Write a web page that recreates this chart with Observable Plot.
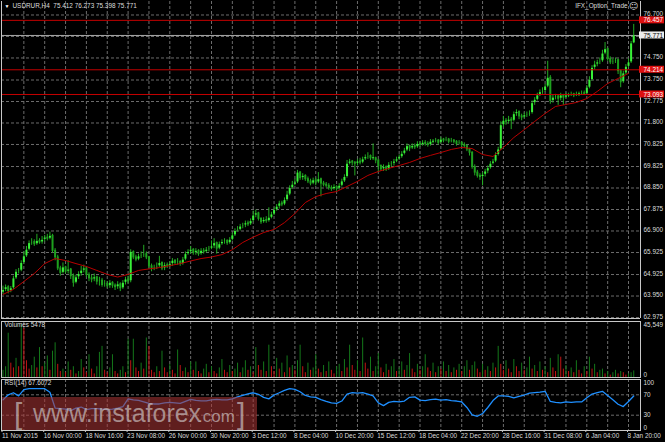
<!DOCTYPE html>
<html><head><meta charset="utf-8">
<script src="https://cdn.jsdelivr.net/npm/d3@7"></script>
<script src="https://cdn.jsdelivr.net/npm/@observablehq/plot@0.6"></script>
<style>
html,body{margin:0;padding:0;background:#000;}
#wrap{position:relative;width:665px;height:442px;background:#000;overflow:hidden;font-family:"Liberation Sans",Arial,sans-serif;}
#wrap svg{position:absolute;left:0;}
#wm{position:absolute;left:2px;top:397px;width:255px;height:33px;background:rgba(172,54,54,0.56);}
#wm span{position:absolute;color:rgba(196,184,184,0.72);font-family:"Liberation Sans",Arial,sans-serif;white-space:nowrap;}
</style></head>
<body><div id="wrap"></div>
<script>
// ---------- DATA ----------
const symbol = "USDRUR,H4";
const firstOpen = 64.10;
const closes = [
64.22,64.35,64.18,64.30,64.75,65.05,65.10,65.45,65.75,66.05,
66.35,66.40,66.30,66.45,66.38,66.50,66.60,66.55,66.68,66.00,
65.70,65.20,65.00,65.25,65.05,65.15,64.85,64.55,64.80,64.95,
65.10,65.20,64.90,64.75,64.70,64.80,64.60,64.65,64.45,64.50,
64.40,64.55,64.42,64.35,64.48,64.30,64.55,64.70,64.62,65.95,
65.70,65.60,65.75,65.80,65.85,65.70,65.30,65.20,65.25,65.30,
65.45,65.20,65.35,65.30,65.40,65.55,65.45,65.50,65.40,65.60,
65.85,65.95,66.05,65.90,66.00,65.85,66.00,65.95,66.05,66.10,
66.20,66.35,66.10,66.30,66.40,66.45,66.35,66.50,66.70,66.90,
66.95,67.10,67.15,67.25,67.20,67.35,67.60,67.70,67.45,67.30,
67.40,67.35,67.50,67.65,67.85,68.00,68.15,68.10,68.30,68.55,
68.85,69.00,69.10,69.55,69.30,69.40,69.25,69.15,69.05,69.20,
69.10,69.25,69.05,69.00,68.95,68.85,68.80,68.90,68.82,68.95,
69.15,69.35,69.95,70.05,70.00,69.95,70.05,70.00,70.15,70.25,
70.30,70.20,70.20,70.10,69.85,69.70,69.80,69.70,69.90,69.95,
70.05,70.15,70.25,70.40,70.55,70.75,70.65,70.75,70.70,70.85,
70.80,70.90,70.85,70.80,70.95,70.95,71.00,70.90,71.05,71.00,
71.05,70.95,71.00,70.95,70.85,70.90,70.80,70.75,70.60,70.45,
69.80,69.55,69.40,69.35,69.45,69.60,69.75,69.95,70.05,70.35,
70.60,71.70,71.90,71.85,71.95,71.90,72.20,72.30,72.10,72.05,
72.15,72.20,72.25,72.70,72.85,73.05,73.20,73.25,73.45,73.85,
72.80,72.95,73.00,72.90,73.05,72.95,73.05,73.05,73.10,73.05,
73.10,73.10,73.15,73.12,73.40,73.75,74.30,74.45,74.55,74.60,
74.95,75.15,74.70,74.55,74.60,74.65,74.15,73.65,74.05,74.35,
74.55,75.412,75.771];
const highs = [
64.40,64.45,64.42,64.38,64.85,65.15,65.20,65.55,65.95,66.20,
66.45,66.55,66.50,66.75,66.55,66.65,66.70,66.75,66.85,66.75,
66.10,65.80,65.30,65.45,65.30,65.55,65.20,64.95,64.90,65.05,
65.30,65.35,65.25,65.00,64.90,64.95,64.85,64.80,64.75,64.65,
64.60,64.65,64.60,64.50,64.60,64.55,64.65,64.80,64.85,66.05,
66.00,65.80,65.85,65.95,66.25,65.95,65.75,65.40,65.35,65.45,
65.75,65.50,65.45,65.45,65.50,65.65,65.60,65.65,65.55,65.70,
65.95,66.05,66.20,66.10,66.10,66.05,66.10,66.10,66.15,66.20,
66.45,66.55,66.40,66.40,66.50,66.55,66.50,66.60,66.80,67.00,
67.10,67.20,67.25,67.35,67.35,67.45,67.80,67.85,67.75,67.50,
67.50,67.55,67.95,67.75,67.95,68.10,68.25,68.25,68.40,68.70,
68.95,69.15,69.25,69.65,69.60,69.50,69.45,69.35,69.25,69.30,
69.30,69.55,69.30,69.15,69.10,69.05,68.95,69.00,68.95,69.05,
69.25,69.45,70.10,70.15,70.10,70.05,70.15,70.20,70.25,70.35,
70.45,70.35,70.85,70.25,70.15,69.90,69.90,69.85,70.00,70.05,
70.15,70.25,70.35,70.50,70.65,70.85,70.80,70.85,70.85,70.95,
70.95,71.00,71.00,70.95,71.05,71.05,71.10,71.05,71.15,71.10,
71.15,71.10,71.10,71.05,71.00,71.00,70.95,70.90,70.80,70.65,
70.50,69.90,69.65,69.50,69.55,69.70,69.85,70.05,70.15,70.45,
70.70,71.85,72.10,72.00,72.10,72.05,72.30,72.40,72.35,72.20,
72.25,72.30,72.35,72.80,72.95,73.15,73.30,73.40,73.55,74.60,
73.95,73.05,73.10,73.05,73.15,73.10,73.15,73.15,73.20,73.15,
73.20,73.20,73.25,73.25,73.50,73.90,74.40,74.60,74.65,74.75,
75.10,75.45,75.20,74.80,74.70,74.75,74.70,74.20,74.15,74.45,
74.70,75.50,76.273];
const lows = [
64.02,64.15,64.05,64.10,64.25,64.70,64.95,65.05,65.40,65.70,
66.00,66.25,66.20,66.25,66.30,66.30,66.40,66.45,66.50,65.90,
65.55,65.10,64.85,64.95,64.95,64.95,64.70,64.35,64.50,64.70,
64.85,65.00,64.80,64.60,64.55,64.60,64.45,64.40,64.35,64.35,
64.30,64.30,64.30,64.20,64.25,64.15,64.25,64.45,64.50,64.55,
65.60,65.50,65.55,65.65,65.70,65.60,65.20,65.05,65.10,65.15,
65.25,65.10,65.10,65.20,65.25,65.30,65.35,65.35,65.30,65.35,
65.55,65.80,65.85,65.80,65.80,65.75,65.80,65.85,65.90,65.95,
66.05,66.10,65.85,66.05,66.25,66.30,66.25,66.30,66.45,66.65,
66.85,66.90,67.00,67.05,67.10,67.15,67.30,67.50,67.35,67.20,
67.25,67.25,67.30,67.45,67.60,67.80,67.90,68.00,68.05,68.25,
68.50,68.80,68.95,69.05,69.20,69.20,69.15,69.05,68.95,69.00,
68.95,69.05,68.45,68.90,68.85,68.75,68.70,68.75,68.70,68.75,
68.90,69.10,69.30,69.90,69.85,69.40,69.85,69.90,69.95,70.10,
70.15,70.10,70.10,69.95,69.55,69.60,69.60,69.60,69.65,69.80,
69.85,70.00,70.10,70.20,70.35,70.50,70.50,70.60,70.60,70.65,
70.70,70.75,70.75,70.70,70.75,70.85,70.90,70.80,70.85,70.90,
70.95,70.85,70.90,70.85,70.75,70.80,70.70,70.65,70.50,70.30,
69.70,69.40,69.30,69.20,68.95,69.35,69.50,69.70,69.90,70.00,
70.30,70.55,71.60,71.70,71.75,71.50,71.85,72.10,71.95,71.90,
72.00,72.05,72.10,72.20,72.60,72.80,73.00,73.10,73.20,73.40,
72.65,72.70,72.85,72.60,72.80,72.60,72.90,72.95,73.00,72.95,
73.00,73.00,73.05,73.05,73.05,73.35,73.70,74.20,74.35,74.45,
74.55,74.90,74.60,74.45,74.45,74.50,74.00,73.40,73.60,74.00,
74.30,74.50,75.398];
const volumes = [
6000,9000,37000,12000,8000,16000,9000,44000,41000,14000,
7000,10000,17000,8000,25000,9000,12000,18000,6000,22000,
29000,11000,5000,7000,4000,13000,6000,9000,3000,5000,
15000,8000,4000,19000,7000,3000,9000,21000,26000,6000,
4000,8000,19000,5000,3000,6000,9000,4000,32000,14000,
32000,8000,5000,12000,7000,33000,26000,6000,4000,9000,
5000,22000,8000,4000,11000,6000,3000,23000,10000,5000,
8000,4000,13000,6000,13000,5000,3000,7000,11000,4000,
9000,5000,3000,8000,15000,6000,4000,10000,5000,7000,
12000,4000,8000,14000,6000,9000,4000,25000,10000,6000,
13000,5000,27000,9000,5000,16000,7000,12000,4000,18000,
8000,10000,6000,14000,27000,9000,4000,12000,6000,8000,
19000,7000,4000,10000,5000,13000,6000,3000,9000,11000,
5000,15000,8000,27000,10000,6000,14000,5000,33000,12000,
7000,17000,5000,9000,20000,8000,4000,11000,6000,9000,
15000,5000,8000,13000,6000,10000,20000,7000,4000,11000,
6000,9000,19000,8000,5000,12000,4000,9000,7000,13000,
5000,10000,4000,8000,6000,11000,5000,9000,14000,6000,
10000,13000,7000,4000,11000,6000,9000,5000,12000,8000,
26000,11000,6000,14000,7000,4000,15000,9000,5000,12000,
6000,8000,17000,7000,10000,5000,13000,6000,9000,4000,
16000,8000,5000,19000,17000,7000,10000,5000,8000,4000,
14000,6000,3000,9000,5000,17000,7000,11000,4000,6000,
7000,3000,5000,2000,4000,6000,3000,5000,4000,2000,
3000,4000,5478];
const volScaleMax = 45549;
// moving average, one value every 4 bars
const maValues = [64.02,64.25,64.61,64.97,65.42,65.65,65.56,65.42,65.29,65.11,
64.93,64.81,64.93,65.11,65.18,65.24,65.33,65.42,65.54,65.65,
65.72,65.83,66.05,66.38,66.62,66.83,66.97,67.28,67.69,68.19,
68.46,68.60,68.69,68.92,69.15,69.42,69.60,69.74,69.87,70.01,
70.19,70.33,70.46,70.60,70.69,70.64,70.37,70.28,70.69,71.14,
71.50,71.87,72.23,72.55,72.64,72.73,72.91,73.23,73.59,73.82,74.05];
const maStep = 4;
// RSI(14), one value every 2 bars
const rsiValues = [60,70,74,68,80,82,82,82,82,75,
44,43,42,39,44,46,41,43,43,42,
41,42,44,47,62,60,59,56,53,52,
52,54,55,54,53,57,61,59,58,58,
60,61,60,60,62,66,69,72,74,71,
65,62,69.6,74,78.7,82.3,80.5,76,68.7,66,
65,60.5,57,54.2,53.3,57.8,71.4,74.2,73.3,74.2,
71.4,67.8,54.2,48.7,55.1,57,56,57.8,65.1,66,
59.6,58.7,60.5,61.5,59.6,60.5,58.7,57.8,56,45.1,
30.6,27.9,33.3,45.1,58.7,67.8,67.8,66.9,64.2,66.9,
69.6,73.3,74.2,75.1,76.9,57,55.1,54.2,56,55.1,
56,56,64.2,71.4,74.2,76.9,68.7,60.5,51.5,46.9,
57,67.6072];
const rsiStep = 2;
const rsiLevels = [70, 30];
const priceTicks = [62.975,63.950,64.925,65.925,66.900,67.875,68.850,69.825,70.825,71.800,72.775,73.750,74.750,76.700];
const priceGrid = [62.975,63.950,64.925,65.925,66.900,67.875,68.850,69.825,70.825,71.800,72.775,73.750,74.750,75.725,76.700];
const redLevels = [76.457, 74.214, 73.093];
const bid = 75.771;
const timeLabels = ["11 Nov 2015","16 Nov 00:00","18 Nov 16:00","23 Nov 08:00","26 Nov 00:00","30 Nov 20:00","3 Dec 12:00","8 Dec 04:00","10 Dec 20:00","15 Dec 12:00","18 Dec 04:00","22 Dec 20:00","28 Dec 16:00","31 Dec 08:00","6 Jan 04:00","8 Jan 20:00"];
const barsPerLabel = 16;
const barsPerGrid = 8;

// ---------- BUILD ----------
const W = 665;
const font = "'Liberation Sans', Arial, sans-serif";
const xDomain = [-0.576, 244.6];
const n = closes.length;
const candles = closes.map((c, i) => {
  const o = i === 0 ? firstOpen : closes[i - 1];
  return {i, o, c, h: Math.max(highs[i], o, c), l: Math.min(lows[i], o, c)};
});
const last = candles[n - 1];
const gridBars = d3.range(barsPerGrid, n, barsPerGrid);
const labelBars = timeLabels.map((_, k) => k * barsPerLabel);
const gridStyle = {stroke: "#6c6c6c", strokeOpacity: 1, strokeDasharray: "3,2", strokeWidth: 1};
const txt = "#dcdcdc";
const fs = 6.4;
const baseStyle = {background: "transparent", color: txt, fontFamily: font, fontSize: fs + "px", overflow: "visible"};
const f3 = d3.format(".3f");
const boxW = 24;

const main = Plot.plot({
  width: W, height: 319, marginLeft: 1, marginRight: 25, marginTop: 1, marginBottom: 1,
  style: baseStyle,
  x: {domain: xDomain, axis: null},
  y: {domain: [62.930, 77.312], axis: null},
  color: {type: "identity"},
  marks: [
    Plot.gridX(gridBars, gridStyle),
    Plot.gridY(priceGrid, gridStyle),
    Plot.ruleY([bid], {stroke: "#a8a8a8", strokeWidth: 1}),
    Plot.ruleX(candles, {x: "i", y1: "l", y2: "h", stroke: "#22aa22", strokeWidth: 1}),
    Plot.ruleX(candles, {x: "i", y1: "o", y2: "c", stroke: d => d.c >= d.o ? "#38f038" : "#1ea01e", strokeWidth: 2, insetTop: -0.5, insetBottom: -0.5}),
    Plot.line(maValues, {x: (d, i) => i * maStep, y: d => d, stroke: "#b80000", strokeWidth: 1}),
    Plot.ruleY(redLevels, {stroke: "#c40000", strokeWidth: 1}),
    Plot.ruleX([xDomain[0], xDomain[1]], {stroke: "#c8c8c8"}),
    Plot.ruleY([62.930], {stroke: "#c8c8c8"}),
    Plot.axisY(priceTicks, {anchor: "right", tickSize: 0, tickPadding: 3, tickFormat: f3, textAnchor: "start", fill: txt, fontSize: fs, dy: -1, label: null}),
    Plot.rect(redLevels, {x1: xDomain[1], x2: xDomain[1], y1: d => d, y2: d => d, insetLeft: -1, insetRight: -boxW, insetTop: -3.5, insetBottom: -3.5, fill: "#dd1010"}),
    Plot.text(redLevels, {x: xDomain[1], y: d => d, text: f3, dx: 3, textAnchor: "start", fill: "#ffffff", fontSize: fs}),
    Plot.rect([bid], {x1: xDomain[1], x2: xDomain[1], y1: d => d, y2: d => d, insetLeft: -1, insetRight: -boxW, insetTop: -3.5, insetBottom: -3.5, fill: "#ececec"}),
    Plot.text([bid], {x: xDomain[1], y: d => d, text: f3, dx: 3, textAnchor: "start", fill: "#000000", fontSize: fs}),
    Plot.text(["\u25BC"], {frameAnchor: "top-left", dx: 3, dy: 3, lineAnchor: "top", textAnchor: "start", fill: "#ffffff", fontSize: 5}),
    Plot.text([`${symbol}  ${last.o.toFixed(3)} ${last.h.toFixed(3)} ${last.l.toFixed(3)} ${last.c.toFixed(3)}`], {frameAnchor: "top-left", dx: 11, dy: 2, lineAnchor: "top", textAnchor: "start", fill: txt, fontSize: fs}),
    Plot.text(["IFX_Option_Trade"], {frameAnchor: "top-right", dx: -13, dy: 2, lineAnchor: "top", textAnchor: "end", fill: txt, fontSize: fs}),
    Plot.text(["\u263A"], {frameAnchor: "top-right", dx: -7, dy: 1, lineAnchor: "top", textAnchor: "middle", fill: txt, fontSize: 9, fontFamily: "DejaVu Sans"})
  ]
});
main.style.top = "0px";

const volRows = volumes.map((v, i) => ({i, v, up: i === 0 || v > volumes[i - 1]}));
const vol = Plot.plot({
  width: W, height: 59, marginLeft: 1, marginRight: 25, marginTop: 2, marginBottom: 1,
  style: baseStyle,
  x: {domain: xDomain, axis: null},
  y: {domain: [0, 46800], axis: null},
  color: {type: "identity"},
  marks: [
    Plot.gridX(gridBars, gridStyle),
    Plot.ruleX(volRows, {x: "i", y1: 0, y2: "v", stroke: d => d.up ? "#14781a" : "#c21414", strokeWidth: 1}),
    Plot.frame({stroke: "#c8c8c8"}),
    Plot.text([`Volumes ${volumes[n - 1]}`], {frameAnchor: "top-left", dx: 3, dy: 1, lineAnchor: "top", textAnchor: "start", fill: txt, fontSize: fs}),
    Plot.text([volScaleMax], {frameAnchor: "top-right", dx: 3, dy: 1, lineAnchor: "top", textAnchor: "start", fill: txt, fontSize: fs}),
    Plot.text([0], {frameAnchor: "bottom-right", dx: 3, dy: -1, lineAnchor: "bottom", textAnchor: "start", fill: txt, fontSize: fs})
  ]
});
vol.style.top = "319px";

const rsi = Plot.plot({
  width: W, height: 65, marginLeft: 1, marginRight: 25, marginTop: 2, marginBottom: 12,
  style: baseStyle,
  x: {domain: xDomain, axis: null},
  y: {domain: [0, 100], axis: null},
  marks: [
    Plot.gridX(gridBars, gridStyle),
    Plot.ruleY(rsiLevels, gridStyle),
    Plot.line(rsiValues, {x: (d, i) => i * rsiStep, y: d => d, stroke: "#1e8fff", strokeWidth: 1.3}),
    Plot.frame({stroke: "#c8c8c8"}),
    Plot.text([`RSI(14) ${rsiValues[rsiValues.length - 1].toFixed(4)}`], {frameAnchor: "top-left", dx: 3, dy: 1, lineAnchor: "top", textAnchor: "start", fill: txt, fontSize: fs}),
    Plot.axisY(rsiLevels, {anchor: "right", tickSize: 0, tickPadding: 3, textAnchor: "start", fill: txt, fontSize: fs, label: null}),
    Plot.text([100], {frameAnchor: "top-right", dx: 3, dy: 1, lineAnchor: "top", textAnchor: "start", fill: txt, fontSize: fs}),
    Plot.text([0], {frameAnchor: "bottom-right", dx: 3, dy: -1, lineAnchor: "bottom", textAnchor: "start", fill: txt, fontSize: fs}),
    Plot.axisX(labelBars, {anchor: "bottom", tickSize: 2, tickPadding: 1, stroke: "#c8c8c8", tickFormat: d => timeLabels[d / barsPerLabel], textAnchor: "start", dx: -1, fill: txt, fontSize: fs, label: null})
  ]
});
rsi.style.top = "377px";

const wrap = document.getElementById("wrap");
wrap.appendChild(main);
wrap.appendChild(vol);
wrap.appendChild(rsi);

const wm = document.createElement("div");
wm.id = "wm";
wm.innerHTML = '<span style="left:12px;top:0px;font-size:30px;font-weight:300;">[</span>' +
  '<span style="left:31px;top:2px;font-size:25px;">www.instaforex</span>' +
  '<span style="left:196px;top:10px;font-size:17px;">.com</span>' +
  '<span style="left:235px;top:0px;font-size:30px;font-weight:300;">]</span>';
wrap.appendChild(wm);
</script>
</body></html>
